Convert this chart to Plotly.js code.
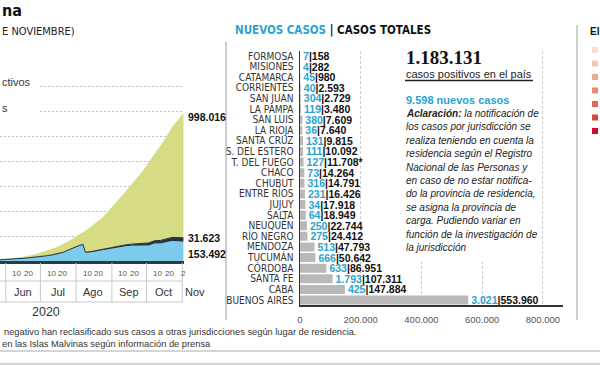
<!DOCTYPE html>
<html><head><meta charset="utf-8">
<script src="https://cdn.plot.ly/plotly-3.0.1.min.js"></script>
<style>html,body{margin:0;padding:0;background:#fff}#chart{width:600px;height:365px}</style>
</head><body><div id="chart"></div>
<script>
// ---- Casos acumulados (área apilada) ----
const fechas = ['2020-05-22','2020-05-27','2020-06-01','2020-06-06','2020-06-11','2020-06-16','2020-06-21','2020-06-26','2020-07-01','2020-07-06','2020-07-11','2020-07-16','2020-07-21','2020-07-26','2020-07-31','2020-08-04','2020-08-07','2020-08-09','2020-08-14','2020-08-19','2020-08-24','2020-08-29','2020-09-03','2020-09-08','2020-09-13','2020-09-18','2020-09-23','2020-09-28','2020-10-03','2020-10-08','2020-10-13','2020-10-18','2020-10-23','2020-10-28','2020-11-02'];
const activos = [7000,9000,11500,14000,16500,20500,25000,29000,34000,40000,47000,55000,68000,88000,108000,122000,128000,66000,70000,78000,86000,98000,106000,112000,118000,122000,124000,125000,124000,140000,140000,150000,160000,158000,153492];
const fallecidos = [433,500,539,648,765,854,979,1150,1351,1582,1845,2112,2533,2997,3596,3979,4411,4606,5361,6517,7366,8353,9361,10405,11412,12799,14376,16113,20599,22710,24572,26267,28338,30071,31623];
const recuperados = [3216,4433,5376,7372,10108,12805,16806,22307,31846,38865,48664,57671,65585,71529,79706,87556,95784,171205,200711,228142,257501,294886,335837,377629,426125,478859,526423,582019,645543,693659,752463,813413,881030,942462,998016];

// ---- Provincias (barras) ----
const provincias = ['FORMOSA','MISIONES','CATAMARCA','CORRIENTES','SAN JUAN','LA PAMPA','SAN LUIS','LA RIOJA','SANTA CRUZ','S. DEL ESTERO','T. DEL FUEGO','CHACO','CHUBUT','ENTRE RÍOS','JUJUY','SALTA','NEUQUÉN','RÍO NEGRO','MENDOZA','TUCUMÁN','CÓRDOBA','SANTA FE','CABA','BUENOS AIRES'];
const nuevosCasos = [7,4,45,40,304,119,380,36,131,111,127,73,316,231,34,64,250,275,513,666,633,1793,425,3021];
const casosTotales = [158,282,980,2593,2729,3480,7609,7640,9815,10092,11708,14264,14791,16426,17918,18949,22744,24412,47793,50642,86951,107311,147884,553960];
const conAsterisco = ['T. DEL FUEGO'];

// ---- Ejes / rótulos ----
const mesesNombres = ['Jun','Jul','Ago','Sep','Oct'];
const mesesCentro = ['2020-06-15 12:00','2020-07-16','2020-08-16','2020-09-15 12:00','2020-10-16'];
const mesesInicio = ['2020-06','2020-07','2020-08','2020-09','2020-10'];
const separadores = ['2020-06-01','2020-07-01','2020-08-01','2020-09-01','2020-10-01','2020-11-01'];
const barTicks = [0,200000,400000,600000,800000];
const barTickText = ['0','200.000','400.000','600.000','800.000'];
const totalPais = '1.183.131';
const nuevosPais = '9.598';
const aclaracion = ['<b>Aclaración:</b> la notificación de','los casos por jurisdicción se','realiza teniendo en cuenta la','residencia según el Registro','Nacional de las Personas y','en caso de no estar notifica-','do la provincia de residencia,','se asigna la provincia de','carga. Pudiendo variar en','función de la investigación de','la jurisdicción'];
const escalaColores = ['#f6ddd5','#f2c6b6','#eca993','#e38d74','#da6e55','#d04a3b','#c8102e'];

const SANS = 'Liberation Sans, Arial, sans-serif';
const NARROW = 'Liberation Sans Narrow, Arial Narrow, DejaVu Sans Condensed, sans-serif';
const SERIF = 'Liberation Serif, Times New Roman, serif';
const CYAN = '#2ba3cf';
const X = p => p/600, Y = p => 1 - p/365;
const fmt = n => String(n).replace(/\B(?=(\d{3})+(?!\d))/g, '.');

const rangoInicio = '2020-05-26 23:00', rangoFin = '2020-11-02 12:00';

const traces = [
  {type:'scatter', mode:'lines', x:fechas, y:activos, stackgroup:'a', xaxis:'x', yaxis:'y',
   line:{width:0, color:'#7ccbed'}, fillcolor:'#7ccbed', hoverinfo:'skip'},
  {type:'scatter', mode:'lines', x:fechas, y:fallecidos, stackgroup:'a', xaxis:'x', yaxis:'y',
   line:{width:1, color:'#27333d'}, fillcolor:'#27333d', hoverinfo:'skip'},
  {type:'scatter', mode:'lines', x:fechas, y:recuperados, stackgroup:'a', xaxis:'x', yaxis:'y',
   line:{width:0, color:'#d6dc84'}, fillcolor:'#d6dc84', hoverinfo:'skip'},
  {type:'bar', orientation:'h', x:casosTotales, y:provincias, xaxis:'x2', yaxis:'y2',
   marker:{color:'#b9b9b9'},
   text: provincias.map((p,i)=>`<b><span style="color:${CYAN}">${fmt(nuevosCasos[i])}</span>|${fmt(casosTotales[i])}${conAsterisco.includes(p)?'*':''}</b>`),
   textposition:'outside', constraintext:'none', cliponaxis:false,
   textfont:{family:SANS, size:10.5, color:'#111'}, hoverinfo:'skip'}
];

const ann = [];
const A = (o) => ann.push(Object.assign({showarrow:false, xref:'paper', yref:'paper'}, o));

// Encabezados izquierda (fragmentos visibles)
A({x:0, y:Y(10), xanchor:'left', yanchor:'middle', text:'<b>na</b>', font:{family:NARROW, size:16, color:'#111'}});
A({x:0, y:Y(32), xanchor:'left', yanchor:'middle', text:'E NOVIEMBRE)', font:{family:NARROW, size:11, color:'#222'}});
A({x:0, y:Y(82), xanchor:'left', yanchor:'middle', text:'ctivos', font:{family:SANS, size:11, color:'#333'}});
A({x:0, y:Y(108), xanchor:'left', yanchor:'middle', text:'s', font:{family:SANS, size:11, color:'#333'}});
// valores finales
A({x:X(186), y:Y(117), xanchor:'left', yanchor:'middle', text:'<b>'+fmt(recuperados[recuperados.length-1])+'</b>', font:{family:SANS, size:10.5, color:'#111'}});
A({x:X(186), y:Y(238), xanchor:'left', yanchor:'middle', text:'<b>'+fmt(fallecidos[fallecidos.length-1])+'</b>', font:{family:SANS, size:10.5, color:'#111'}});
A({x:X(186), y:Y(254), xanchor:'left', yanchor:'middle', text:'<b>'+fmt(activos[activos.length-1])+'</b>', font:{family:SANS, size:10.5, color:'#111'}});
// eje temporal
mesesInicio.forEach(m=>{
  ['10','20'].forEach(d=>A({xref:'x', x:`${m}-${d} 12:00`, y:Y(273), xanchor:'center', yanchor:'middle', text:d, font:{family:SANS, size:8, color:'#555'}}));
});
A({xref:'x', x:'2020-11-02 06:00', y:Y(273), xanchor:'center', yanchor:'middle', text:'2', font:{family:SANS, size:8, color:'#555'}});
mesesNombres.forEach((m,i)=>A({xref:'x', x:mesesCentro[i], y:Y(292), xanchor:'center', yanchor:'middle', text:m, font:{family:SANS, size:11, color:'#333'}}));
A({xref:'x', x:'2020-11-01', xshift:1, y:Y(292), xanchor:'left', yanchor:'middle', text:'Nov', font:{family:SANS, size:11, color:'#333'}});
A({x:X(46), y:Y(312), xanchor:'center', yanchor:'middle', text:'2020', font:{family:SANS, size:12.5, color:'#333'}});
// notas al pie
A({x:X(2), y:Y(332), xanchor:'left', yanchor:'middle', text:'negativo han reclasificado sus casos a otras jurisdicciones según lugar de residencia.', font:{family:SANS, size:9.3, color:'#333'}});
A({x:X(0), y:Y(344), xanchor:'left', yanchor:'middle', text:'en las Islas Malvinas según información de prensa', font:{family:SANS, size:9.3, color:'#333'}});
// barras: encabezado
A({x:X(233), y:Y(30), xanchor:'left', yanchor:'middle', text:`<b><span style="color:${CYAN}">NUEVOS CASOS</span> | CASOS TOTALES</b>`, font:{family:NARROW, size:11.5, color:'#111'}});
// cuadro de texto
A({x:X(404), y:Y(57), xanchor:'left', yanchor:'middle', text:'<b>'+totalPais+'</b>', font:{family:SERIF, size:19, color:'#111'}});
A({x:X(404), y:Y(73.5), xanchor:'left', yanchor:'middle', text:'casos positivos en el país', font:{family:SANS, size:11, color:'#222'}});
A({x:X(404), y:Y(100), xanchor:'left', yanchor:'middle', text:`<b>${nuevosPais} nuevos casos</b>`, font:{family:SANS, size:11, color:CYAN}});
aclaracion.forEach((t,i)=>A({x:X(404), y:Y(113.5+13.4*i), xanchor:'left', yanchor:'middle', text:'<i>'+t+'</i>', font:{family:SANS, size:10, color:'#222', style:'italic'}}));
// panel derecho
A({x:X(588), y:Y(32), xanchor:'left', yanchor:'middle', text:'<b>El</b>', font:{family:SANS, size:10, color:'#111'}});

const shapes = [];
const S = (o) => shapes.push(Object.assign({xref:'paper', yref:'paper'}, o));
// ocultar guías detrás de rótulos
S({type:'rect', x0:0, x1:X(40), y0:Y(89), y1:Y(83), fillcolor:'#fff', line:{width:0}, layer:'above'});
S({type:'rect', x0:0, x1:X(40), y0:Y(114), y1:Y(108), fillcolor:'#fff', line:{width:0}, layer:'above'});
// tabla del eje temporal
separadores.forEach(d=>S({type:'line', xref:'x', x0:d, x1:d, y0:Y(263), y1:Y(302), line:{color:'#c8c8c8', width:1}}));
[281,302].forEach(yy=>S({type:'line', xref:'x', x0:rangoInicio, x1:'2020-11-01', y0:Y(yy), y1:Y(yy), line:{color:'#c8c8c8', width:1}}));
// separadores de paneles
S({type:'line', x0:X(226), x1:X(226), y0:Y(42), y1:Y(320), line:{color:'#bdbdbd', width:1.5}});
S({type:'line', x0:X(577), x1:X(577), y0:Y(25), y1:Y(320), line:{color:'#cfcfcf', width:2}});
// fondo del cuadro de texto
S({type:'rect', x0:X(398), x1:X(541), y0:Y(262), y1:Y(44), fillcolor:'#fff', line:{width:0}, layer:'above'});
S({type:'line', x0:X(405), x1:X(533), y0:Y(80.5), y1:Y(80.5), line:{color:'#222', width:1.5}, layer:'above'});
// reglas inferiores
[351,364].forEach(yy=>S({type:'line', x0:0, x1:1, y0:Y(yy), y1:Y(yy), line:{color:'#aaa', width:1}}));
// escala de colores
escalaColores.forEach((c,i)=>S({type:'rect', x0:X(592), x1:X(598), y0:Y(53+13.5*i), y1:Y(47+13.5*i), fillcolor:c, line:{width:0}}));

const layout = {
  width:600, height:365, margin:{l:0,r:0,t:0,b:0},
  paper_bgcolor:'#fff', plot_bgcolor:'rgba(0,0,0,0)', showlegend:false,
  separators:',.', bargap:0.15, font:{family:SANS},
  xaxis:{type:'date', domain:[0, X(184)], range:[rangoInicio, rangoFin], anchor:'y',
         showgrid:false, showticklabels:false, ticks:'', zeroline:false,
         showline:true, linecolor:'#2e3a44', linewidth:3},
  yaxis:{domain:[Y(261), Y(61)], range:[0,1600000], dtick:200000, anchor:'x',
         showgrid:true, gridcolor:'#c2c2c2', gridwidth:1, griddash:'2px,2px',
         showticklabels:false, ticks:'', zeroline:false, showline:false},
  xaxis2:{domain:[0.5, X(563)], range:[0,866000], anchor:'y2',
          tickvals:barTicks, ticktext:barTickText, tickfont:{family:SANS, size:9.5, color:'#555'},
          ticks:'', ticklabelstandoff:5, showgrid:true, gridcolor:'#cccccc', griddash:'3px,2px', gridwidth:1,
          zeroline:false, showline:true, linecolor:'#333', linewidth:1.5},
  yaxis2:{domain:[Y(305.3), Y(50.7)], type:'category', categoryarray:provincias, categoryorder:'array',
          range:[provincias.length-0.5, -0.5], anchor:'x2',
          tickmode:'array', tickvals:provincias, ticktext:provincias,
          tickfont:{family:NARROW, size:10, color:'#333'}, ticks:'', ticklabelstandoff:3,
          showgrid:false, zeroline:false, showline:true, linecolor:'#333', linewidth:1.5},
  annotations:ann, shapes:shapes
};

Plotly.newPlot('chart', traces, layout, {staticPlot:true, displayModeBar:false});
</script></body></html>
